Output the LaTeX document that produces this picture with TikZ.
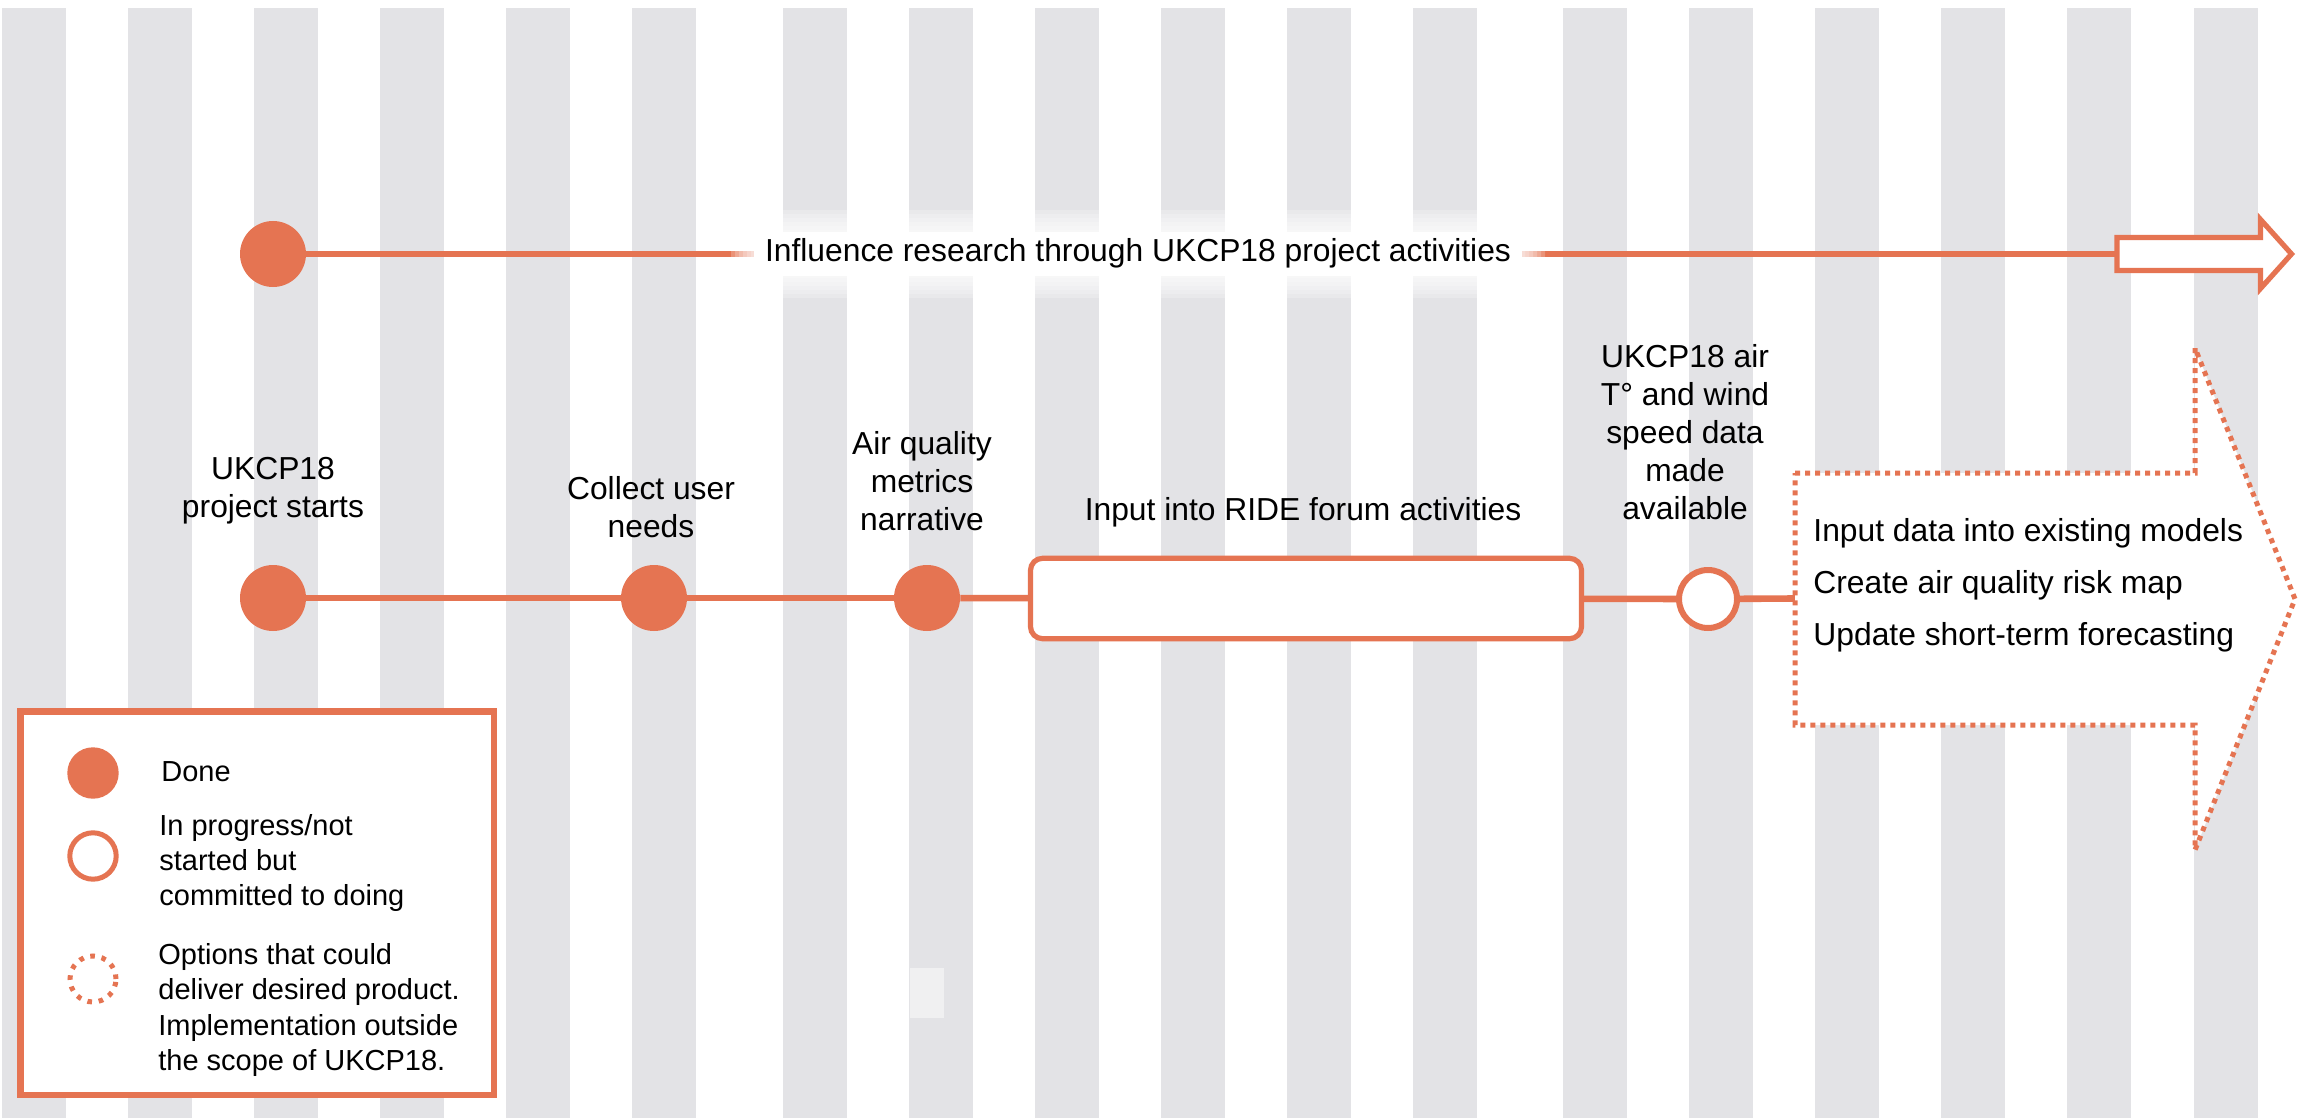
\documentclass[tikz,border=0pt]{standalone}
\usepackage{fontspec}
\setmainfont{Liberation Sans}
\definecolor{orn}{RGB}{229,116,82}
\definecolor{stripecol}{RGB}{227,227,230}
\definecolor{sqcol}{RGB}{240,240,241}
\begin{document}
\begin{tikzpicture}[x=0.5pt,y=-0.5pt,
  lbl/.style={font=\fontsize{15.9}{19}\selectfont, align=center, inner sep=0pt},
  leg/.style={font=\fontsize{14.5}{17.6}\selectfont, align=left, anchor=west, inner sep=0pt},
  donedot/.style={circle, fill=orn, inner sep=0pt, minimum size=33pt},
  link/.style={draw=orn, line width=3.3pt},
  dotline/.style={draw=orn, line width=2.5pt, dash pattern=on 2.5pt off 2.5pt}
]
\useasboundingbox (0,0) rectangle (2305,1118);
\fill[white] (0,0) rectangle (2305,1118);
% background stripes
\foreach \g in {1.5,782.6,1563}{
  \foreach \k in {0,...,5}{
    \fill[stripecol] ({\g+126.1*\k},8) rectangle ({\g+126.1*\k+64},1118);
  }
}
\fill[sqcol] (910,968) rectangle (944,1018);

% top track
\node[donedot] (t0) at (273,254) {};
\coordinate (ttail) at (2117,254);
\draw[link] (t0) -- (ttail);
\foreach \i in {1,...,6}{
  \fill[white,opacity=0.22,rounded corners=8pt] ({755-4*\i},{234-4*\i}) rectangle ({1521+4*\i},{274+4*\i});
}
\node[lbl, fill=white, text height=11.5pt, text depth=3.5pt, minimum height=22pt, inner xsep=5.5pt] (ttext) at (1138,254) {Influence research through UKCP18 project activities};
\draw[orn, line width=2.6pt, fill=white, miter limit=10] (2117,237.5) -- (2260.5,237.5) -- (2260.5,219.5) -- (2291.5,254) -- (2260.5,288.5) -- (2260.5,270.5) -- (2117,270.5) -- cycle;

% middle timeline
\node[donedot] (m1) at (273,598) {};
\node[donedot] (m2) at (654,598) {};
\node[donedot] (m3) at (927,598) {};
\node[draw=orn, line width=2.6pt, fill=white, rounded corners=6pt, inner sep=0pt, minimum width=275.5pt, minimum height=40.2pt] (box) at (1306,598.5) {};
\node[circle, draw=orn, line width=3pt, fill=white, inner sep=0pt, minimum size=29pt] (m5) at (1708,599) {};
\coordinate (dleft) at (1795,598.5);
\draw[link] (m1) -- (m2);
\draw[link] (m2) -- (m3);
\draw[link] (m3) -- (box);
\draw[link] (box) -- (m5);
\draw[link] (m5) -- (dleft);

% dotted options arrow
\draw[dotline, fill=white] (1795,473) -- (2195,473) -- (2195,348) -- (2295,599) -- (2195,850) -- (2195,725) -- (1795,725) -- cycle;
\node[font=\fontsize{15.9}{26}\selectfont, align=left, anchor=west, inner sep=0pt] (opts) at (1813,585) {Input data into existing models\\Create air quality risk map\\Update short-term forecasting};

% labels
\node[lbl] (l1) at (273,491) {UKCP18\\project starts};
\node[lbl] (l2) at (651,507) {Collect user\\needs};
\node[lbl] (l3) at (922,481) {Air quality\\metrics\\narrative};
\node[lbl] (l4) at (1303,512) {Input into RIDE forum activities};
\node[lbl] (l5) at (1685,432) {UKCP18 air\\T° and wind\\speed data\\made\\available};

% legend
\node[draw=orn, line width=3.2pt, fill=white, inner sep=0pt, minimum width=236.7pt, minimum height=191.7pt] (legend) at (257,903) {};
\node[donedot, minimum size=25.7pt] (k1) at (93,773) {};
\node[circle, draw=orn, line width=2.5pt, fill=white, inner sep=0pt, minimum size=23.2pt] (k2) at (93,856) {};
\node[circle, draw=orn, line width=2.5pt, dash pattern=on 2.3pt off 3.4pt, inner sep=0pt, minimum size=23pt] (k3) at (93,979) {};
\node[leg] (k1t) at (161,772) {Done};
\node[leg] (k2t) at (159,863) {In progress/not\\started but\\committed to doing};
\node[leg] (k3t) at (158,1010) {Options that could\\deliver desired product.\\Implementation outside\\the scope of UKCP18.};
\end{tikzpicture}
\end{document}
